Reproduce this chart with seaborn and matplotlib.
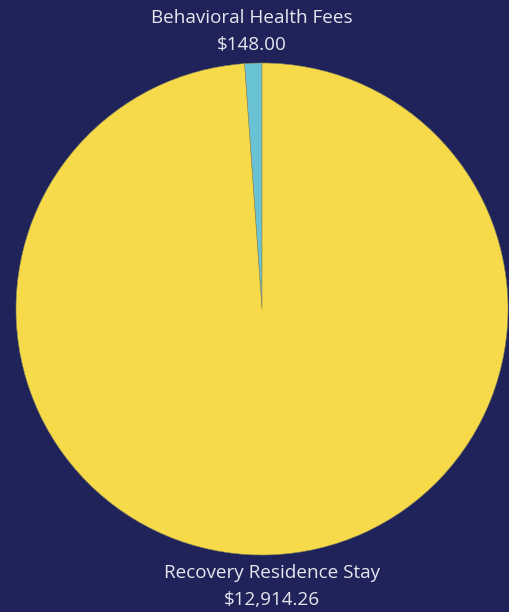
import matplotlib
matplotlib.use("Agg")
import matplotlib.pyplot as plt
import seaborn as sns

categories = ["Behavioral Health Fees", "Recovery Residence Stay"]
amounts = [148.00, 12914.26]
colors = ["#6ac3d4", "#f7da4a"]

bg = "#20235a"
text_color = "#e6e6ee"

sns.set_theme(style="white")
plt.rcParams['font.family'] = ['Open Sans', 'DejaVu Sans']

W, H = 509, 612
fig = plt.figure(figsize=(W / 100, H / 100), dpi=100, facecolor=bg)

# pie area in pixels: center (262, 309), radius 246
cx, cy, r = 262, 309, 246
ax = fig.add_axes([(cx - r) / W, (H - cy - r) / H, 2 * r / W, 2 * r / H])
ax.set_facecolor(bg)

ax.pie(
    amounts,
    colors=colors,
    startangle=90,
    counterclock=True,
    radius=1,
    wedgeprops=dict(edgecolor="#8a8a5a", linewidth=0.4),
)
ax.set_xlim(-1, 1)
ax.set_ylim(-1, 1)
ax.set_aspect("equal")
ax.axis("off")

# labels above and below the pie
top_lbl = [(252, 18), (252, 45)]
bot_lbl = [(272, 573), (272, 600)]
for (name, val), pos in zip(zip(categories, amounts), [top_lbl, bot_lbl]):
    fig.text(pos[0][0] / W, 1 - pos[0][1] / H, name, ha="center", va="center",
             color=text_color, fontsize=13.6)
    fig.text(pos[1][0] / W, 1 - pos[1][1] / H, f"${val:,.2f}", ha="center", va="center",
             color=text_color, fontsize=13.6)

fig.savefig("out.png", dpi=100, facecolor=bg)
